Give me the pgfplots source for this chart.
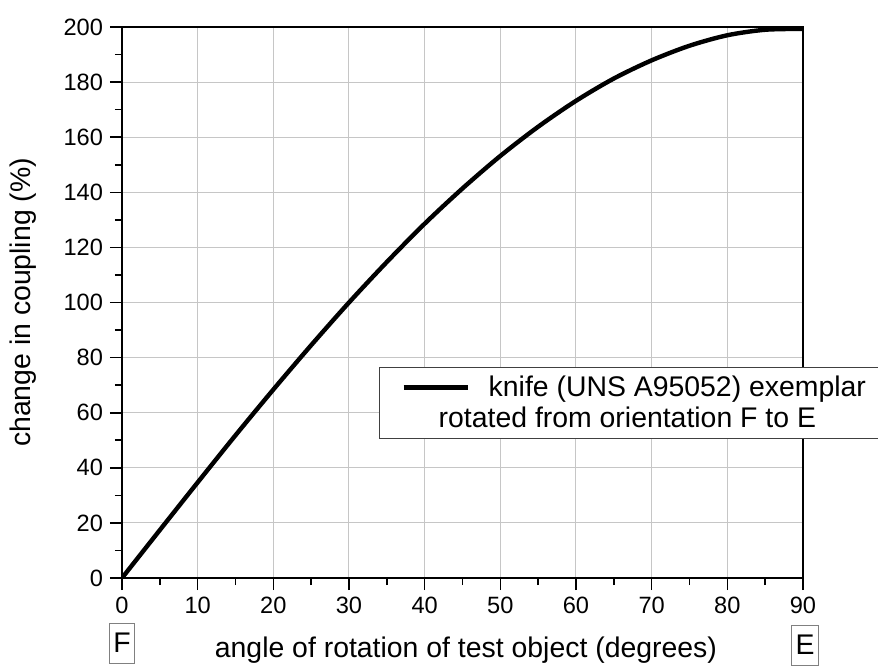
\documentclass[border=0pt]{standalone}
\usepackage{fontspec}
\setmainfont{Liberation Sans}
\usepackage{pgfplots}
\pgfplotsset{compat=1.18}
\begin{document}
\begin{tikzpicture}
\useasboundingbox (-61pt,-43.5pt) rectangle (378pt,289pt);
\begin{axis}[
  name=ax, at={(0,0)}, anchor=south west,
  scale only axis, width=340.5pt, height=275.5pt,
  xmin=0, xmax=90, ymin=0, ymax=200,
  xtick={0,10,...,90}, ytick={0,20,...,200},
  minor x tick num=1, minor y tick num=1,
  xtick pos=bottom, ytick pos=left,
  tick align=outside,
  major tick length=6pt, minor tick length=3.5pt,
  every tick/.style={black, line width=0.8pt},
  axis line style={line width=1pt},
  grid=major, grid style={gray!45, line width=0.5pt},
  /pgf/number format/assume math mode=true,
  ticklabel style={font=\fontsize{11.8}{14}\selectfont},
  xlabel={angle of rotation of test object (degrees)},
  ylabel={change in coupling (\%)},
  label style={font=\fontsize{14.2}{17}\selectfont},
  xlabel style={at={(axis description cs:0.505,-0.131)}, anchor=center},
  ylabel style={at={(axis description cs:-0.145,0.5)}, anchor=center},
  legend style={at={(rel axis cs:0.377,0.383)}, anchor=north west,
    draw=black!75, line width=0.6pt, inner xsep=11pt, inner ysep=1.5pt,
    font=\fontsize{14.2}{17}\selectfont, row sep=-1pt,
    nodes={inner sep=2.5pt}},
  legend cell align=left,
  legend image code/.code={\draw[line width=2.2pt] (0pt,0pt) -- (32pt,0pt);
    \path (39pt,0pt);},
]
\addplot[black, line width=2.2pt, smooth] coordinates {
  (0,0) (5,17.4) (10,34.7) (15,51.8) (20,68.4) (25,84.5) (30,100)
  (35,114.7) (40,128.6) (45,141.4) (50,153.2) (55,163.8) (60,173.2)
  (65,181.3) (70,187.9) (75,193.2) (80,197.0) (85,199.0) (90,199.3)
};
\addlegendentry{knife (UNS A95052) exemplar}
\addlegendimage{empty legend}
\addlegendentry{\hspace*{-25pt}rotated from orientation F to E}
\end{axis}
\tikzset{fe/.style={draw=gray, line width=0.5pt, inner xsep=1.8pt,
  inner ysep=0pt, minimum height=20pt, anchor=center,
  font=\fontsize{14.2}{17}\selectfont}}
\node[fe] at ([yshift=-32.5pt]ax.south west) {F};
\node[fe] at ([yshift=-33.5pt,xshift=1pt]ax.south east) {E};
\end{tikzpicture}
\end{document}
